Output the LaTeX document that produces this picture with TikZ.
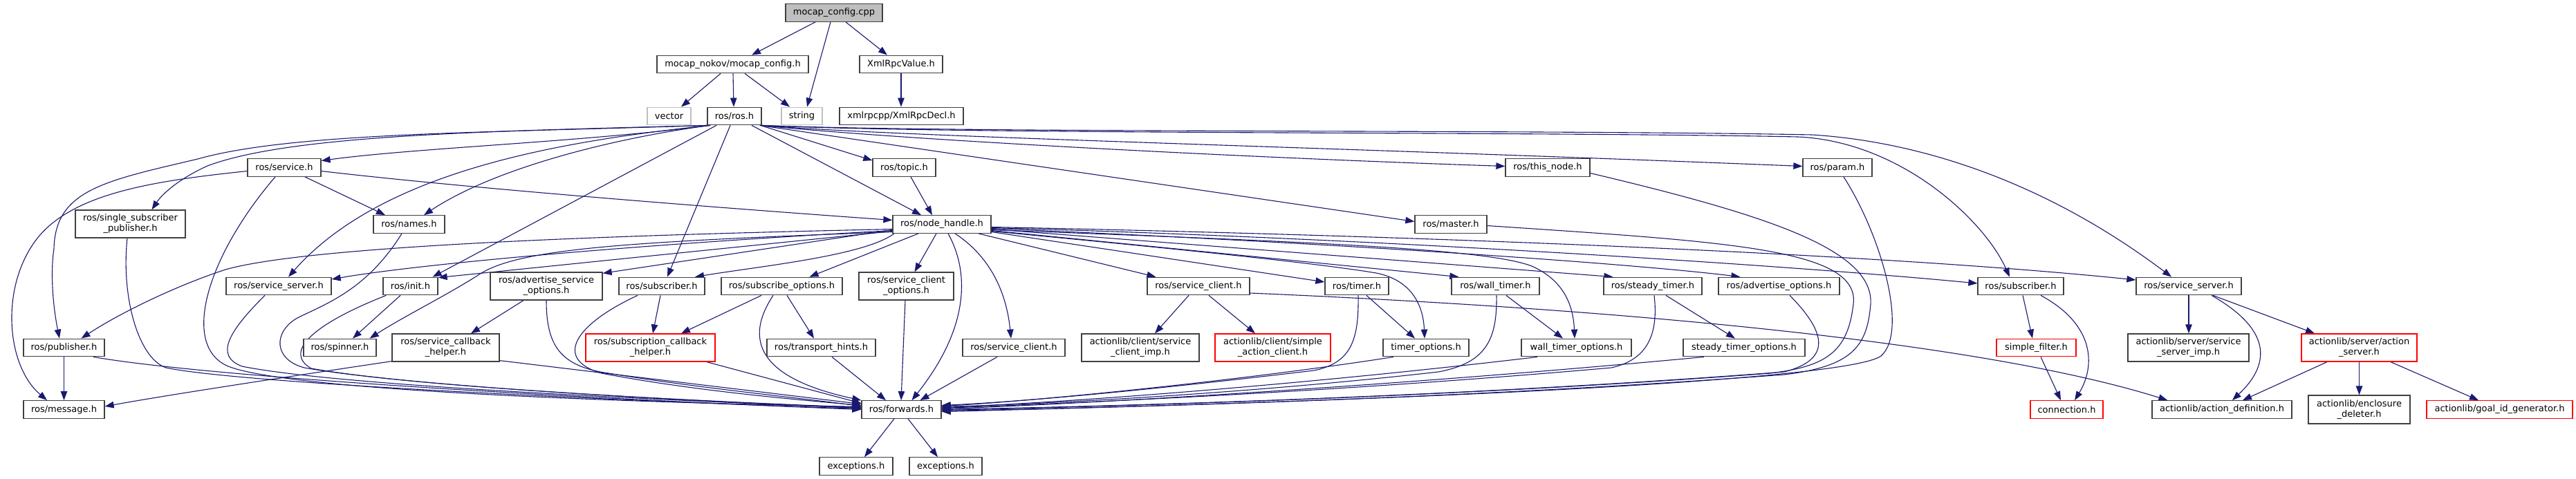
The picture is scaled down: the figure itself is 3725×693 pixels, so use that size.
\documentclass[tikz,border=0pt]{standalone}
\usepackage{fontspec}
\setmainfont{DejaVu Sans}
\usetikzlibrary{arrows.meta,backgrounds}
\definecolor{edgec}{RGB}{25,25,112}
\definecolor{bordc}{RGB}{64,64,64}
\definecolor{greyf}{RGB}{191,191,191}
\definecolor{redb}{RGB}{255,0,0}
\tikzset{
  box/.style={draw=bordc, line width=1.3pt, fill=white, inner sep=0pt, minimum height=25.5pt, font=\fontsize{13}{15}\selectfont, align=center},
  boxtwo/.style={box, minimum height=40pt},
  greybox/.style={box, draw=greyf},
  redbox/.style={box, draw=redb},
  redboxtwo/.style={boxtwo, draw=redb},
  rootbox/.style={box, fill=greyf},
  lnk/.style={draw=edgec, line width=1.1pt, -{Triangle[length=13pt,width=9.5pt]}}
}
\begin{document}
\begin{tikzpicture}[x=1pt,y=-1pt]
\useasboundingbox (0,0) rectangle (3725,693);
% rank A-C
\node[rootbox, minimum width=140pt] (root) at (1206,18.5) {mocap\_config.cpp};
\node[box, minimum width=219pt] (mcfg) at (1059.5,93) {mocap\_nokov/mocap\_config.h};
\node[box, minimum width=120pt] (xval) at (1303,93) {XmlRpcValue.h};
\node[greybox, minimum width=63pt] (vector) at (967.5,168) {vector};
\node[box, minimum width=78pt] (ros) at (1062,168) {ros/ros.h};
\node[greybox, minimum width=59pt] (string) at (1159.5,168) {string};
\node[box, minimum width=179pt] (xdecl) at (1303.5,168) {xmlrpcpp/XmlRpcDecl.h};
% rank D
\node[box, minimum width=106pt] (service) at (411,242.5) {ros/service.h};
\node[box, minimum width=91pt] (topic) at (1307.5,242.5) {ros/topic.h};
\node[box, minimum width=122pt] (thisnode) at (2238,242.5) {ros/this\_node.h};
\node[box, minimum width=100pt] (param) at (2657,242.5) {ros/param.h};
% rank E
\node[boxtwo, minimum width=159pt] (ssp) at (188.5,324) {ros/single\_subscriber\\\_publisher.h};
\node[box, minimum width=103pt] (names) at (591.5,324.5) {ros/names.h};
\node[box, minimum width=142pt] (nh) at (1362,324.5) {ros/node\_handle.h};
\node[box, minimum width=104pt] (master) at (2098,324.5) {ros/master.h};
% rank F
\node[box, minimum width=152pt] (ssrv1) at (403,414) {ros/service\_server.h};
\node[box, minimum width=79pt] (init) at (593.5,414) {ros/init.h};
\node[boxtwo, minimum width=162pt] (aso) at (790,414) {ros/advertise\_service\\\_options.h};
\node[box, minimum width=124pt] (sub1) at (957,414) {ros/subscriber.h};
\node[box, minimum width=175pt] (subopt) at (1130.5,414) {ros/subscribe\_options.h};
\node[boxtwo, minimum width=137pt] (sco) at (1310.5,414) {ros/service\_client\\\_options.h};
\node[box, minimum width=148pt] (sc2) at (1733,414) {ros/service\_client.h};
\node[box, minimum width=92pt] (timer) at (1962,414) {ros/timer.h};
\node[box, minimum width=127pt] (wtimer) at (2162.5,414) {ros/wall\_timer.h};
\node[box, minimum width=142pt] (stimer) at (2390,414) {ros/steady\_timer.h};
\node[box, minimum width=175pt] (advopt) at (2572.5,414) {ros/advertise\_options.h};
\node[box, minimum width=124pt] (sub2) at (2922,414) {ros/subscriber.h};
\node[box, minimum width=152pt] (ssrv2) at (3165,414) {ros/service\_server.h};
% rank G
\node[box, minimum width=117pt] (pub) at (92.5,503) {ros/publisher.h};
\node[box, minimum width=105pt] (spinner) at (491.5,503) {ros/spinner.h};
\node[boxtwo, minimum width=155pt] (sch) at (644.5,503) {ros/service\_callback\\\_helper.h};
\node[redboxtwo, minimum width=187pt] (subcb) at (940.5,503) {ros/subscription\_callback\\\_helper.h};
\node[box, minimum width=157pt] (th) at (1187.5,503) {ros/transport\_hints.h};
\node[box, minimum width=148pt] (sc1) at (1466,503) {ros/service\_client.h};
\node[boxtwo, minimum width=170pt] (scimp) at (1649,503) {actionlib/client/service\\\_client\_imp.h};
\node[redboxtwo, minimum width=167pt] (sac) at (1840.5,503) {actionlib/client/simple\\\_action\_client.h};
\node[box, minimum width=124pt] (topt) at (2062,503) {timer\_options.h};
\node[box, minimum width=159pt] (wtopt) at (2279.5,503) {wall\_timer\_options.h};
\node[box, minimum width=176pt] (stopt) at (2522,503) {steady\_timer\_options.h};
\node[redbox, minimum width=115pt] (sf) at (2944.5,503) {simple\_filter.h};
\node[boxtwo, minimum width=175pt] (ssimp) at (3164.5,503) {actionlib/server/service\\\_server\_imp.h};
\node[redboxtwo, minimum width=167pt] (asrv) at (3411.5,503) {actionlib/server/action\\\_server.h};
% rank H
\node[box, minimum width=117pt] (msg) at (92.5,592.5) {ros/message.h};
\node[box, minimum width=115pt] (fwd) at (1303.5,592.5) {ros/forwards.h};
\node[redbox, minimum width=105pt] (conn) at (2988.5,592.5) {connection.h};
\node[box, minimum width=202pt] (adef) at (3213,592.5) {actionlib/action\_definition.h};
\node[boxtwo, minimum width=147pt, minimum height=41pt] (encl) at (3411.5,592.5) {actionlib/enclosure\\\_deleter.h};
\node[redbox, minimum width=211pt] (goal) at (3614.5,592.5) {actionlib/goal\_id\_generator.h};
% rank I
\node[box, minimum width=106pt] (exc1) at (1238,674.5) {exceptions.h};
\node[box, minimum width=105pt] (exc2) at (1367.5,674.5) {exceptions.h};

\begin{scope}[on background layer]
% root level
\draw[lnk] ([xshift=-27pt]root.south) -- ([xshift=27.5pt]mcfg.north);
\draw[lnk] ([xshift=-5pt]root.south) -- ([xshift=7.5pt]string.north);
\draw[lnk] ([xshift=17pt]root.south) -- ([xshift=-20pt]xval.north);
\draw[lnk] ([xshift=-17.5pt]mcfg.south) -- ([xshift=17.5pt]vector.north);
\draw[lnk] ([xshift=0.5pt]mcfg.south) -- ([xshift=-1pt]ros.north);
\draw[lnk] ([xshift=17.5pt]mcfg.south) -- ([xshift=-17.5pt]string.north);
\draw[lnk] (xval.south) -- ([xshift=-0.5pt]xdecl.north);
% ros.h, left side
\draw[lnk] ([xshift=3pt]ros.south west) .. controls (850,205) and (600,214) .. ([yshift=10pt]service.east);
\draw[lnk] ([xshift=2pt]ros.south west) .. controls (700,190) and (420,195) .. (300,240) .. controls (260,258) and (235,280) .. ([xshift=31pt]ssp.north);
\draw[lnk] ([xshift=1pt]ros.south west) .. controls (700,192) and (420,192) .. (286,230) .. controls (150,262) and (80,275) .. (78,360) .. controls (72,400) and (78,450) .. ([xshift=-6.5pt]pub.north);
\draw[lnk] ([xshift=4pt]ros.south west) .. controls (900,198) and (720,240) .. ([xshift=21.5pt]names.north);
\draw[lnk] ([xshift=5pt]ros.south west) .. controls (800,205) and (550,250) .. ([xshift=14pt]ssrv1.north);
\draw[lnk] ([xshift=-26pt]ros.south) -- ([xshift=-8pt]init.north east);
\draw[lnk] ([xshift=-6pt]ros.south) -- ([xshift=8pt]sub1.north);
\draw[lnk] ([xshift=25pt]ros.south) -- ([xshift=-30pt]nh.north);
% ros.h, right side
\draw[lnk] ([xshift=-2pt]ros.south east) -- ([yshift=-3pt]topic.north west);
\draw[lnk] ([xshift=-1pt]ros.south east) .. controls (1300,202) and (1800,228) .. ([yshift=2pt]thisnode.west);
\draw[lnk] (ros.south east) .. controls (1300,198) and (1900,212) .. ([yshift=2pt]param.west);
\draw[lnk] ([xshift=-3pt]ros.south east) -- ([yshift=4pt]master.west);
\draw[lnk] (ros.south east) .. controls (1400,195) and (2200,190) .. (2600,198) .. controls (2750,205) and (2870,320) .. ([xshift=-16pt]sub2.north);
\draw[lnk] (ros.south east) .. controls (1400,193) and (2200,187) .. (2620,195) .. controls (2780,205) and (2960,265) .. ([xshift=-25pt]ssrv2.north);
\draw[lnk] ([xshift=9.5pt]topic.south) -- ([xshift=-14pt]nh.north);
% node_handle.h
\draw[lnk] ([yshift=-7pt]nh.west) .. controls (900,340) and (450,355) .. (326,390) .. controls (250,415) and (170,455) .. ([xshift=25pt]pub.north);
\draw[lnk] ([yshift=-9pt]nh.west) .. controls (900,355) and (600,383) .. ([yshift=10pt]ssrv1.east);
\draw[lnk] ([yshift=-10pt]nh.west) -- ([yshift=-1pt]init.north east);
\draw[lnk] ([yshift=-11pt]nh.west) .. controls (900,350) and (750,360) .. (693,397) .. controls (650,425) and (580,460) .. ([xshift=-10pt]spinner.north east);
\draw[lnk] ([yshift=-8pt]nh.west) -- ([yshift=-2pt]aso.north east);
\draw[lnk] ([xshift=-69pt]nh.south) .. controls (1250,370) and (1100,385) .. ([xshift=48pt]sub1.north);
\draw[lnk] ([xshift=-34pt]nh.south) -- ([xshift=40pt]subopt.north);
\draw[lnk] ([xshift=-8pt]nh.south) -- ([xshift=12pt]sco.north);
\draw[lnk] ([xshift=9pt]nh.south) .. controls (1400,390) and (1405,470) .. ([xshift=15pt]fwd.north);
\draw[lnk] ([xshift=19pt]nh.south) .. controls (1430,370) and (1455,420) .. ([xshift=-4pt]sc1.north);
\draw[lnk] ([xshift=53pt]nh.south) -- ([xshift=13pt]sc2.north west);
\draw[lnk] ([yshift=-11pt]nh.east) -- ([yshift=6pt]timer.west);
\draw[lnk] ([yshift=-10pt]nh.east) .. controls (1700,360) and (1900,380) .. (1990,395) .. controls (2040,405) and (2058,440) .. ([xshift=-2pt]topt.north);
\draw[lnk] ([yshift=-9pt]nh.east) -- ([xshift=11pt]wtimer.north west);
\draw[lnk] ([yshift=-8pt]nh.east) .. controls (1900,350) and (2150,360) .. (2215,385) .. controls (2260,405) and (2275,440) .. ([xshift=-2.5pt]wtopt.north);
\draw[lnk] ([yshift=-7pt]nh.east) -- ([xshift=14pt]stimer.north west);
\draw[lnk] ([yshift=-6pt]nh.east) .. controls (1900,350) and (2350,380) .. ([xshift=32pt]advopt.north west);
\draw[lnk] ([yshift=-5pt]nh.east) .. controls (2000,345) and (2600,385) .. ([yshift=4pt]sub2.west);
\draw[lnk] ([yshift=-4pt]nh.east) .. controls (2000,340) and (2700,365) .. ([yshift=9pt]ssrv2.west);
% service.h
\draw[lnk] ([yshift=-5pt]service.west) .. controls (220,262) and (100,280) .. (50,350) .. controls (0,420) and (10,530) .. ([xshift=-24.5pt]msg.north);
\draw[lnk] ([yshift=-5pt]service.east) .. controls (700,275) and (1100,305) .. ([yshift=6pt]nh.west);
\draw[lnk] ([xshift=30pt]service.south) -- ([xshift=-34.5pt]names.north);
\draw[lnk] ([xshift=-13pt]service.south) .. controls (300,370) and (260,500) .. (330,530) .. controls (420,565) and (900,582) .. ([yshift=4pt]fwd.west);
% left group into forwards
\draw[lnk] ([xshift=-4.5pt]ssp.south) .. controls (175,430) and (200,518) .. (240,532) .. controls (350,555) and (900,580) .. ([yshift=1pt]fwd.west);
\draw[lnk] (pub.south) -- (msg.north);
\draw[lnk] ([xshift=42.5pt]pub.south) .. controls (300,545) and (800,575) .. (fwd.west);
\draw[lnk] ([xshift=-10.5pt]names.south) .. controls (530,420) and (470,440) .. (430,460) .. controls (395,480) and (395,520) .. (440,532) .. controls (600,560) and (1000,580) .. ([yshift=2pt]fwd.west);
\draw[lnk] ([xshift=-20pt]ssrv1.south) .. controls (330,480) and (310,515) .. (350,530) .. controls (500,560) and (1000,580) .. ([yshift=2pt]fwd.west);
\draw[lnk] ([xshift=-14.5pt]init.south) -- ([xshift=18.5pt]spinner.north);
\draw[lnk] ([xshift=5pt]init.south west) .. controls (450,470) and (410,510) .. (450,533) .. controls (600,560) and (1000,580) .. ([yshift=3pt]fwd.west);
\draw[lnk] ([yshift=1pt]sch.south west) .. controls (450,540) and (250,570) .. ([yshift=4.5pt]msg.east);
\draw[lnk] ([yshift=2pt]sch.south east) -- ([yshift=8pt]fwd.west);
\draw[lnk] ([xshift=-33pt]aso.south) -- ([xshift=36.5pt]sch.north);
\draw[lnk] (aso.south) .. controls (790,500) and (810,530) .. (880,540) .. controls (1000,560) and (1150,575) .. ([yshift=5pt]fwd.west);
\draw[lnk] ([xshift=-2pt]sub1.south) -- ([xshift=3.5pt]subcb.north);
\draw[lnk] ([xshift=-35pt]sub1.south) .. controls (830,470) and (800,520) .. (870,540) .. controls (1000,565) and (1150,578) .. ([yshift=6pt]fwd.west);
\draw[lnk] ([xshift=-29.5pt]subopt.south) -- ([xshift=44.5pt]subcb.north);
\draw[lnk] ([xshift=-12.5pt]subopt.south) .. controls (1070,500) and (1110,550) .. (fwd.north west);
\draw[lnk] ([xshift=7.5pt]subopt.south) -- ([xshift=-10.5pt]th.north);
\draw[lnk] ([xshift=81.5pt]subcb.south) -- ([yshift=9pt]fwd.west);
\draw[lnk] ([xshift=15.5pt]th.south) -- ([xshift=-22.5pt]fwd.north);
\draw[lnk] ([xshift=-1.5pt]sco.south) -- ([xshift=-0.5pt]fwd.north);
\draw[lnk] ([xshift=-24pt]sc1.south) -- ([xshift=27pt]fwd.north);
\draw[lnk] ([xshift=-10.5pt]fwd.south) -- ([xshift=12pt]exc1.north);
\draw[lnk] ([xshift=9.5pt]fwd.south) -- ([xshift=-11.5pt]exc2.north);
% service_client (upper)
\draw[lnk] ([xshift=-14pt]sc2.south) -- ([xshift=21pt]scimp.north);
\draw[lnk] ([xshift=15pt]sc2.south) -- ([xshift=-25.5pt]sac.north);
\draw[lnk] ([yshift=-10pt]sc2.east) .. controls (2300,445) and (2850,490) .. ([xshift=23pt]adef.north west);
% timers
\draw[lnk] ([xshift=14pt]timer.south) -- ([xshift=-16pt]topt.north);
\draw[lnk] ([xshift=2pt]timer.south) .. controls (1965,490) and (1955,525) .. (1900,536) .. controls (1700,560) and (1500,580) .. ([yshift=6pt]fwd.east);
\draw[lnk] ([xshift=15.5pt]wtimer.south) -- ([xshift=-19.5pt]wtopt.north);
\draw[lnk] ([xshift=1.5pt]wtimer.south) .. controls (2165,490) and (2150,525) .. (2080,538) .. controls (1800,570) and (1500,585) .. ([yshift=4pt]fwd.east);
\draw[lnk] ([xshift=19pt]stimer.south) -- ([xshift=-13pt]stopt.north);
\draw[lnk] ([xshift=2pt]stimer.south) .. controls (2398,480) and (2385,520) .. (2330,532) .. controls (1900,570) and (1500,585) .. ([yshift=2pt]fwd.east);
\draw[lnk] ([xshift=-47pt]topt.south) .. controls (1800,550) and (1500,580) .. ([yshift=5pt]fwd.east);
\draw[lnk] ([xshift=-56.5pt]wtopt.south) .. controls (1900,555) and (1550,582) .. ([yshift=3pt]fwd.east);
\draw[lnk] ([xshift=-58pt]stopt.south) .. controls (2000,560) and (1550,585) .. ([yshift=1pt]fwd.east);
\draw[lnk] ([xshift=15.5pt]advopt.south) .. controls (2640,480) and (2650,520) .. (2580,538) .. controls (2100,575) and (1600,588) .. (fwd.east);
\draw[lnk] ([yshift=-2pt]master.east) .. controls (2500,350) and (2690,360) .. (2680,440) .. controls (2672,510) and (2640,530) .. (2560,540) .. controls (2100,575) and (1600,588) .. ([yshift=-1pt]fwd.east);
\draw[lnk] ([yshift=-8pt]thisnode.east) .. controls (2550,310) and (2710,360) .. (2705,440) .. controls (2700,500) and (2680,530) .. (2580,542) .. controls (2100,578) and (1600,590) .. ([yshift=-2pt]fwd.east);
\draw[lnk] ([xshift=9pt]param.south) .. controls (2720,340) and (2760,480) .. (2720,515) .. controls (2680,545) and (2200,575) .. ([yshift=-3pt]fwd.east);
% right part
\draw[lnk] ([xshift=3pt]sub2.south) -- ([xshift=-5.5pt]sf.north);
\draw[lnk] ([xshift=29pt]sub2.south) .. controls (3030,470) and (3030,530) .. ([xshift=11.5pt]conn.north);
\draw[lnk] ([xshift=6.5pt]sf.south) -- ([xshift=-8.5pt]conn.north);
\draw[lnk] (ssrv2.south) -- ([xshift=0.5pt]ssimp.north);
\draw[lnk] ([xshift=33pt]ssrv2.south) .. controls (3290,480) and (3280,530) .. ([xshift=15pt]adef.north);
\draw[lnk] ([xshift=35pt]ssrv2.south) -- ([xshift=-64.5pt]asrv.north);
\draw[lnk] ([xshift=-46.5pt]asrv.south) -- ([xshift=30pt]adef.north);
\draw[lnk] (asrv.south) -- (encl.north);
\draw[lnk] ([xshift=45.5pt]asrv.south) -- ([xshift=-30.5pt]goal.north);
\end{scope}
\end{tikzpicture}
\end{document}
